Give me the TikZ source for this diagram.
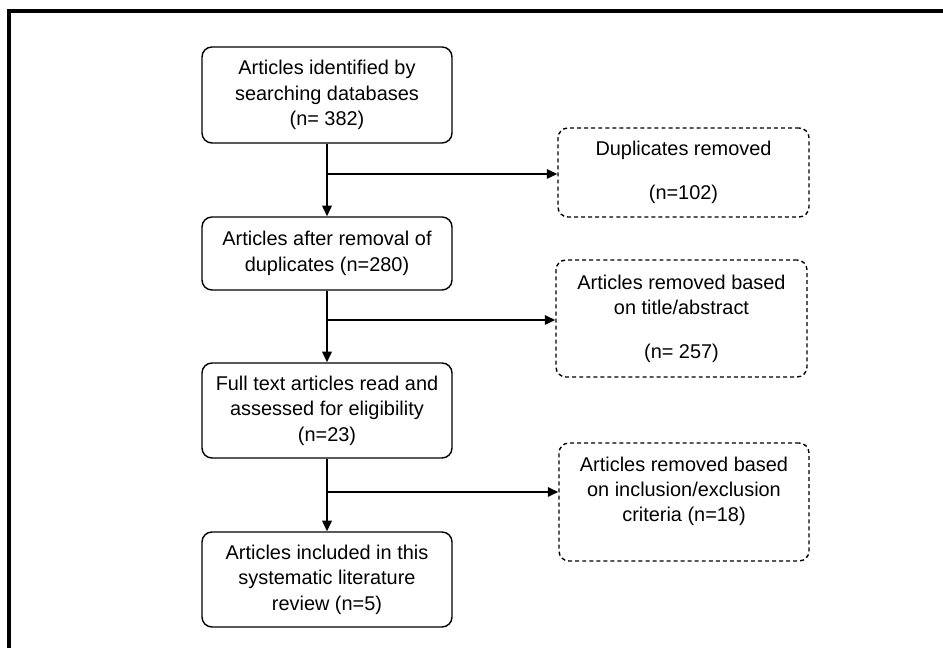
\documentclass[tikz,border=0pt]{standalone}
\usepackage{fontspec}
\setmainfont{Liberation Sans}
\usetikzlibrary{arrows.meta}

\begin{document}
\begin{tikzpicture}[font=\fontsize{17}{21.7}\selectfont,box/.style={draw,rounded corners=8.5pt,line width=1.2pt,minimum width=7.5cm,inner sep=0pt,align=center},dropbox/.style={box,dash pattern=on 3.4pt off 2.6pt},flow/.style={line width=1.7pt,-{Triangle[length=9pt,width=8pt]}}]
\useasboundingbox (0,0) rectangle (28.29,19.44);
\draw[line width=2.6pt] (0.27,0) -- (0.27,19.11) -- (28.29,19.11);
\node[box,minimum height=2.88cm] (found) at (9.81,16.59) {Articles identified by\\searching databases\\(n= 382)};
\node[box,minimum height=2.19cm] (dedup) at (9.81,11.835) {Articles after removal of\\duplicates (n=280)};
\node[box,minimum height=2.85cm] (fulltext) at (9.81,7.125) {Full text articles read and\\assessed for eligibility\\(n=23)};
\node[box,minimum height=2.85cm] (included) at (9.81,2.055) {Articles included in this\\systematic literature\\review (n=5)};
\node[dropbox,minimum width=7.53cm,minimum height=2.67cm] (dup) at (20.505,14.265) {Duplicates removed\\[0.55cm](n=102)};
\node[dropbox,minimum width=7.53cm,minimum height=3.51cm] (title) at (20.445,9.885) {Articles removed based\\on title/abstract\\[0.55cm](n= 257)};
\node[dropbox,minimum width=7.5cm,minimum height=3.54cm] (crit) at (20.52,4.38) {Articles removed based\\on inclusion/exclusion\\criteria (n=18)\\\mbox{}};
\coordinate (j1) at (9.81,14.22);
\coordinate (j2) at (9.81,9.84);
\coordinate (j3) at (9.84,4.68);
\draw[flow] (found) -- (dedup);
\draw[flow] (dedup) -- (fulltext);
\draw[flow] (fulltext) -- (included);
\draw[flow] (j1) -- (j1 -| dup.west);
\draw[flow] (j2) -- (j2 -| title.west);
\draw[flow] (j3) -- (j3 -| crit.west);
\end{tikzpicture}
\end{document}
